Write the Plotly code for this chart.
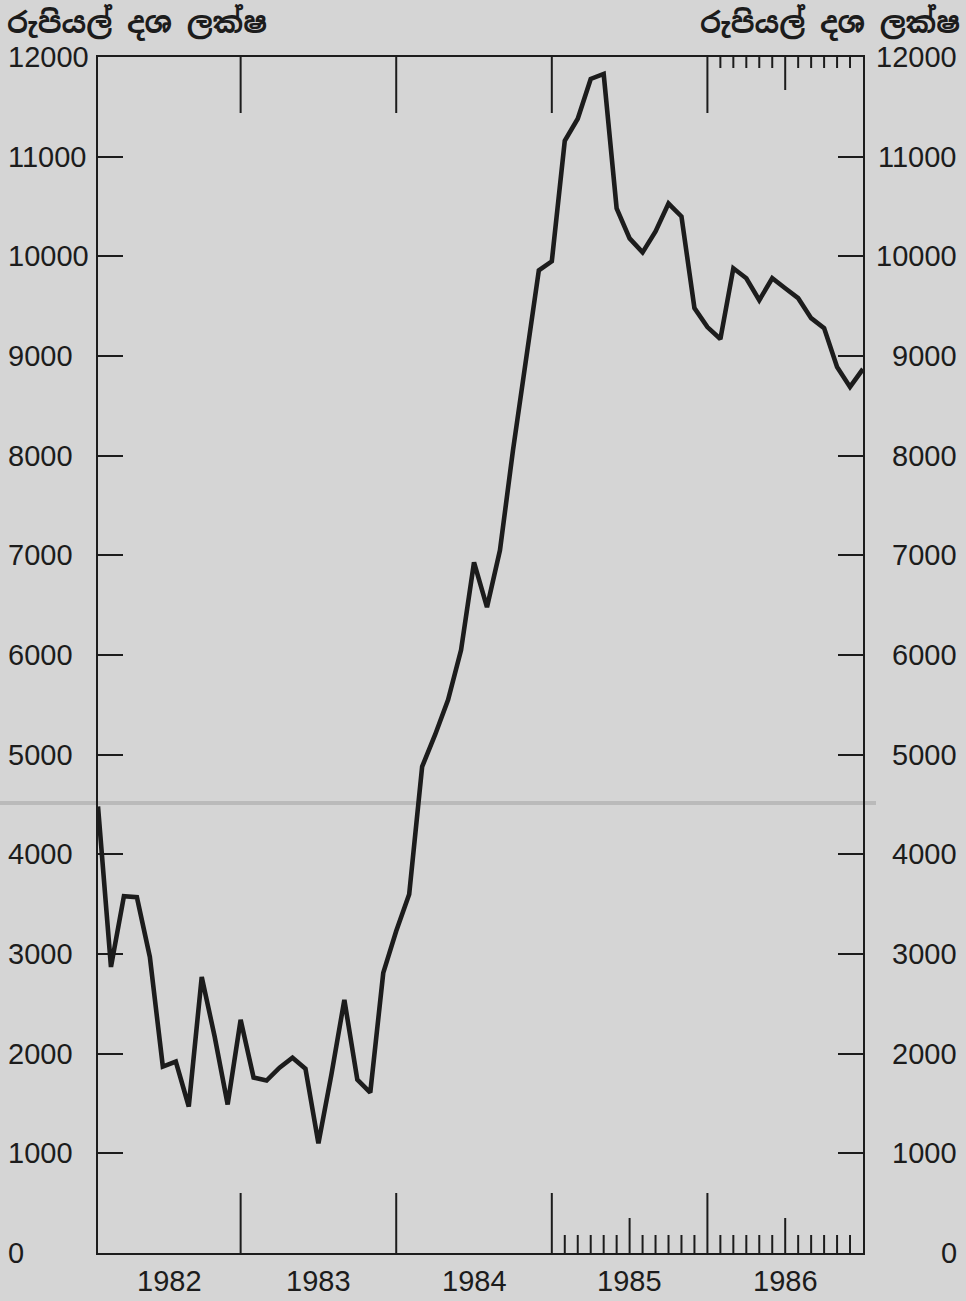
import plotly.graph_objects as go

# ---------------- data ----------------
years = [1982, 1983, 1984, 1985, 1986]
values_1982 = [4480, 2870, 3580, 3570, 2970, 1870, 1920, 1470, 2770, 2170, 1490, 2340]
values_1983 = [1760, 1730, 1860, 1960, 1850, 1100, 1790, 2540, 1740, 1610, 2810, 3230]
values_1984 = [3600, 4880, 5200, 5550, 6050, 6930, 6480, 7050, 8050, 8950, 9860, 9950]
values_1985 = [11160, 11380, 11780, 11830, 10480, 10180, 10040, 10250, 10530, 10400, 9480, 9290]
values_1986 = [9170, 9880, 9780, 9560, 9780, 9680, 9580, 9380, 9280, 8890, 8690, 8870]
y_tick_values = [0, 1000, 2000, 3000, 4000, 5000, 6000, 7000, 8000, 9000, 10000, 11000, 12000]
unit_label = "රුපියල් දශ ලක්ෂ"

yearly = [values_1982, values_1983, values_1984, values_1985, values_1986]
months = []
values = []
for yr, vals in zip(years, yearly):
    for i, v in enumerate(vals):
        months.append(f"{yr}-{i + 1:02d}")
        values.append(v)

# ---------------- geometry (pixels) ----------------
W, H = 966, 1301
L, R, T, B = 98, 103, 57, 48
PW = W - L - R
PH = H - T - B

BG = "#d5d5d5"
INK = "#1c1c1c"
NUM_FONT = dict(family="Liberation Sans, Arial, sans-serif", size=29, color=INK)

fig = go.Figure()
fig.add_trace(go.Scatter(
    x=months, y=values, mode="lines",
    line=dict(color=INK, width=4.6),
    hoverinfo="x+y", showlegend=False,
))

shapes = []


def tick(xpos, length_px, top=False, width=2):
    if top:
        y0, y1 = 1.0, 1.0 - length_px / PH
    else:
        y0, y1 = 0.0, length_px / PH
    shapes.append(dict(type="line", xref="x", yref="paper",
                       x0=xpos, x1=xpos, y0=y0, y1=y1,
                       line=dict(color=INK, width=width)))


n = len(months)
year_ends = [12 * (k + 1) - 1 for k in range(len(years) - 1)]  # category index of each December
for xe in year_ends:
    tick(xe, 60)
    tick(xe, 56, top=True)
# monthly ticks on the bottom for the last two years, top for the last year
for idx in range(12 * 3, n - 1):
    if idx in year_ends:
        continue
    month_no = idx % 12 + 1
    if month_no == 6:
        tick(idx, 35)
    else:
        tick(idx, 18)
for idx in range(12 * 4, n - 1):
    month_no = idx % 12 + 1
    if month_no == 6:
        tick(idx, 33, top=True)
    else:
        tick(idx, 11, top=True)

# faint scan fold line
shapes.append(dict(type="line", xref="paper", yref="paper",
                   x0=(0 - L) / PW, x1=(876 - L) / PW,
                   y0=(1253 - 803) / PH, y1=(1253 - 803) / PH,
                   line=dict(color="#bababa", width=4), layer="below"))

annotations = []
for v in y_tick_values:
    annotations.append(dict(text=str(v), xref="paper", yref="y", x=(6 - L) / PW, y=v,
                            xanchor="left", yanchor="middle", showarrow=False, font=NUM_FONT))
    annotations.append(dict(text=str(v), xref="paper", yref="y", x=(959 - L) / PW, y=v,
                            xanchor="right", yanchor="middle", showarrow=False, font=NUM_FONT))

# year labels centred between year boundaries
bounds = [0] + year_ends + [n - 1]
for k, yr in enumerate(years):
    annotations.append(dict(text=str(yr), xref="x", yref="paper",
                            x=(bounds[k] + bounds[k + 1]) / 2, y=(1253 - 1281) / PH,
                            xanchor="center", yanchor="middle", showarrow=False, font=NUM_FONT))

title_font = dict(family="Noto Sans Sinhala, Noto Sans, sans-serif", size=29, color=INK,
                  weight="bold")
annotations.append(dict(text=unit_label, xref="paper", yref="paper", x=(5 - L) / PW,
                        y=1 + (T - 22) / PH, xanchor="left", yanchor="middle",
                        showarrow=False, font=title_font))
annotations.append(dict(text=unit_label, xref="paper", yref="paper", x=(962 - L) / PW,
                        y=1 + (T - 22) / PH, xanchor="right", yanchor="middle",
                        showarrow=False, font=title_font))

fig.update_layout(
    width=W, height=H,
    margin=dict(l=L, r=R, t=T, b=B, pad=0),
    paper_bgcolor=BG, plot_bgcolor=BG,
    shapes=shapes, annotations=annotations,
    xaxis=dict(type="category", range=[0, n - 1], showgrid=False, zeroline=False,
               showline=True, mirror=True, linecolor=INK, linewidth=2.2,
               ticks="", showticklabels=False),
    yaxis=dict(range=[0, 12000], showgrid=False, zeroline=False,
               showline=True, mirror="ticks", linecolor=INK, linewidth=2.2,
               ticks="inside", ticklen=25, tickwidth=2, tickcolor=INK,
               tickvals=y_tick_values, showticklabels=False),
)

fig.write_html(
    "out.html",
    config={"displayModeBar": False},
    post_script="document.body.style.margin='0';document.body.style.overflow='hidden';"
                "document.body.style.background='#d5d5d5';",
)
